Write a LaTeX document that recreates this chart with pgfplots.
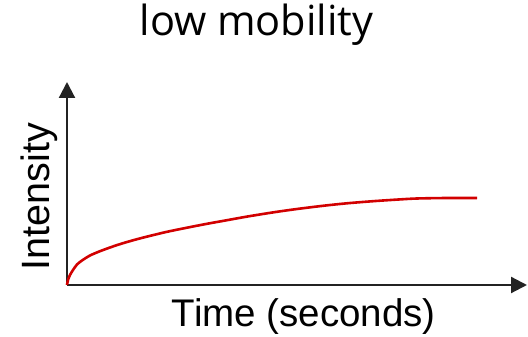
\documentclass[border=0pt]{standalone}
\usepackage{fontspec}
\setmainfont{Liberation Sans}
\newfontfamily\titlefont{Open Sans}
\usepackage{pgfplots}
\pgfplotsset{compat=1.18}
\usetikzlibrary{arrows.meta}
\definecolor{curvered}{RGB}{210,0,0}
\definecolor{axisgray}{RGB}{35,35,35}
\begin{document}
\begin{tikzpicture}
\useasboundingbox (0,0) rectangle (528pt,337pt);
\begin{axis}[
  at={(67pt,52pt)}, anchor=south west,
  scale only axis, width=460pt, height=203pt,
  xmin=0, xmax=460, ymin=0, ymax=203,
  axis lines=left,
  axis line style={line width=2.2pt, draw=axisgray, -{Triangle[length=16pt,width=16pt]}},
  ticks=none,
  title={low mobility},
  title style={font=\titlefont\fontsize{41.5}{45}\selectfont, at={(axis description cs:0.412,1.199)}, anchor=base},
  xlabel={Time (seconds)},
  xlabel style={font=\fontsize{38.5}{40}\selectfont, at={(axis description cs:0.515,-0.205)}, anchor=base},
  ylabel={Intensity},
  ylabel style={font=\fontsize{39.5}{40}\selectfont, at={(axis description cs:-0.037,0.436)}, anchor=base},
  clip=false,
]
\addplot[curvered, line width=2.6pt, smooth] coordinates {
(0,0) (1,5) (3,10) (6,15) (10,20.5) (15,24.5) (23,29.5) (33,33.8) (45,38.2) (56,41.8)
(70,45.8) (85,49.6) (100,53.2) (120,57.3) (140,61.2) (160,64.8) (180,68.4) (206,72.6)
(230,76) (256,79.2) (280,81.7) (306,83.8) (330,85.4) (350,86.5) (380,87) (410,87)
};
\end{axis}
\end{tikzpicture}
\end{document}
